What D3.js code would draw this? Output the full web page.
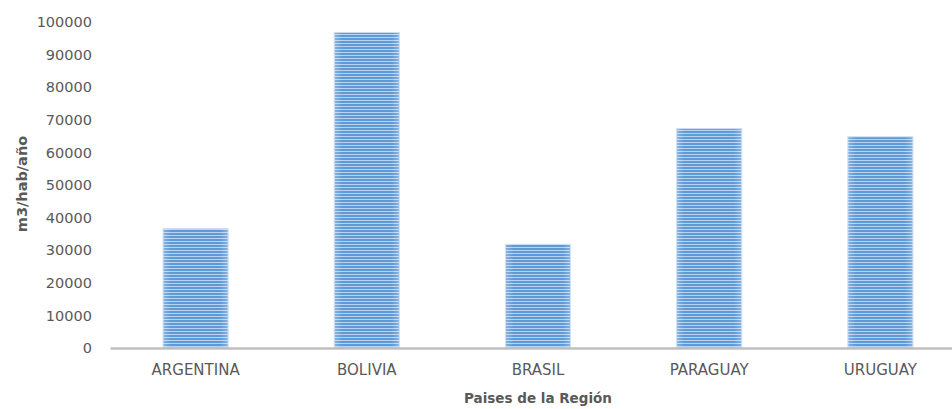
<!DOCTYPE html>
<html><head><meta charset="utf-8">
<script src="https://cdn.jsdelivr.net/npm/d3@7"></script>
<style>body{margin:0;background:#fff}svg{display:block}</style>
</head><body><div id="c"></div>
<script>
const categories = ["ARGENTINA","BOLIVIA","BRASIL","PARAGUAY","URUGUAY"];
const values = [36600, 96800, 31800, 67300, 64800];
const yTicks = [0,10000,20000,30000,40000,50000,60000,70000,80000,90000,100000];
const yTitle = "m3/hab/año";
const xTitle = "Paises de la Región";

const W=952,H=409;
const svg=d3.select("#c").append("svg").attr("width",W).attr("height",H);
const defs=svg.append("defs");
const pat=defs.append("pattern").attr("id","stripes").attr("patternUnits","userSpaceOnUse")
  .attr("width",8).attr("height",3);
pat.append("rect").attr("width",8).attr("height",3).attr("fill","#5f9ad6");
pat.append("rect").attr("y",1).attr("width",8).attr("height",1).attr("fill","#b8d3ef");
const grad=defs.append("linearGradient").attr("id","edge").attr("x1",0).attr("x2",1).attr("y1",0).attr("y2",0);
grad.append("stop").attr("offset","0").attr("stop-color","#fff").attr("stop-opacity",0.25);
grad.append("stop").attr("offset","0.12").attr("stop-color","#fff").attr("stop-opacity",0);
grad.append("stop").attr("offset","0.88").attr("stop-color","#fff").attr("stop-opacity",0);
grad.append("stop").attr("offset","1").attr("stop-color","#fff").attr("stop-opacity",0.25);

const x=d3.scaleBand().domain(categories).range([110,966]).paddingInner(0.62).paddingOuter(0.31);
const y=d3.scaleLinear().domain([0,100000]).range([348,22]);

const font="'DejaVu Sans', sans-serif";
// y tick labels
const yAxis=svg.append("g").attr("transform","translate(92,0)")
  .call(d3.axisLeft(y).tickValues(yTicks).tickSize(0).tickPadding(0).tickFormat(d=>String(d)));
yAxis.select(".domain").remove();
yAxis.selectAll("text").attr("fill","#595959").attr("font-family",font).attr("font-size","14.5px");

// bars
const bars=svg.append("g");
bars.selectAll("rect.b").data(values).join("rect").attr("class","b")
  .attr("x",(d,i)=>x(categories[i])).attr("width",x.bandwidth())
  .attr("y",d=>y(d)).attr("height",d=>y(0)-y(d))
  .attr("fill","url(#stripes)").attr("stroke","#c9ddf2").attr("stroke-width",1);
bars.selectAll("rect.e").data(values).join("rect").attr("class","e")
  .attr("x",(d,i)=>x(categories[i])).attr("width",x.bandwidth())
  .attr("y",d=>y(d)).attr("height",d=>y(0)-y(d))
  .attr("fill","url(#edge)");

// x axis
const xAxis=svg.append("g").attr("transform","translate(0,348)")
  .call(d3.axisBottom(x).tickSize(0).tickPadding(16));
xAxis.select(".domain").attr("stroke","#bfbfbf").attr("stroke-width",2.5);
xAxis.selectAll("text").attr("fill","#595959").attr("font-family",font).attr("font-size","15px");

svg.append("text").attr("x",538).attr("y",403).attr("text-anchor","middle")
  .attr("fill","#595959").attr("font-family",font).attr("font-weight","bold").attr("font-size","13.5px").text(xTitle);
svg.append("text").attr("transform","translate(27,184) rotate(-90)").attr("text-anchor","middle")
  .attr("fill","#595959").attr("font-family",font).attr("font-weight","bold").attr("font-size","14.5px").text(yTitle);
</script></body></html>
